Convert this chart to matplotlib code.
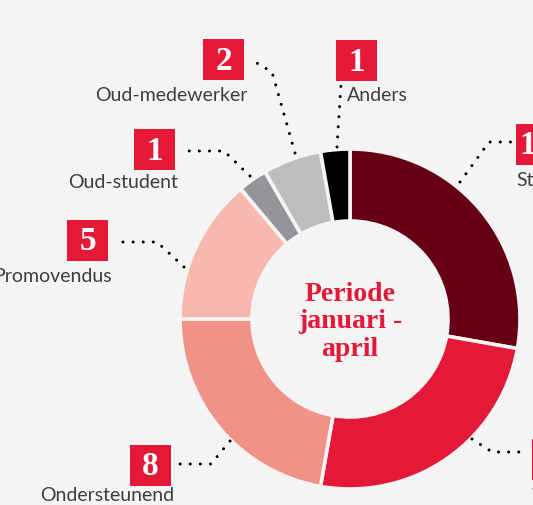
import matplotlib.pyplot as plt

# data
categories = ["Student", "Wetenschappelijk personeel", "Ondersteunend", "Promovendus",
              "Oud-student", "Oud-medewerker", "Anders"]
values = [10, 9, 8, 5, 1, 2, 1]
colors = ["#650015", "#e31937", "#f09386", "#f7b9ad", "#949598", "#bcbdbf", "#000000"]
center_title = "Periode\njanuari -\napril"

W, H = 533, 506
BG = "#f3f4f3"
RED = "#e31937"

def fy(y):
    # pixel y (top down) -> axes y
    return H - y

fig = plt.figure(figsize=(W / 100, H / 100), dpi=100, facecolor=BG)
ax = fig.add_axes([0, 0, 1, 1])
ax.set_facecolor(BG)

cx, cy, r = 350, 320, 170
ax.pie(values, colors=colors, startangle=90, counterclock=False,
       center=(cx, fy(cy)), radius=r, frame=True,
       wedgeprops=dict(width=72, edgecolor=BG, linewidth=2.6))
ax.set_xlim(0, W)
ax.set_ylim(0, H)
ax.set_aspect("equal")
ax.axis("off")

ax.text(cx, fy(cy + 2), center_title, ha="center", va="center",
        fontsize=20, fontweight="bold", family="Liberation Serif",
        color=RED, linespacing=1.12)

# annotation layout: box centre, label anchor, leader path (pixel coords)
layout = {
    "Student": dict(box=(536.5, 145), lab=(516, 181, "left"),
                    path=[(460, 183), (489, 143), (514, 143)]),
    "Wetenschappelijk personeel": dict(box=(552.5, 460), lab=(532, 497, "left"),
                    path=[(472, 440), (492, 453), (526, 453)]),
    "Ondersteunend": dict(box=(150.5, 466), lab=(174, 496, "right"),
                    path=[(230, 442), (211, 465), (177, 465)]),
    "Promovendus": dict(box=(87.5, 241), lab=(112, 276, "right"),
                    path=[(184, 268), (157, 243), (113, 243)]),
    "Oud-student": dict(box=(154.5, 150), lab=(178, 182, "right"),
                    path=[(250, 177), (224, 152), (180, 152)]),
    "Oud-medewerker": dict(box=(223.5, 60.5), lab=(247, 95, "right"),
                    path=[(295, 154), (272, 73), (250, 60)]),
    "Anders": dict(box=(356.5, 61.5), lab=(347, 95, "left"),
                    path=[(337, 148), (341, 85)]),
}

bs = 41
for cat, val in zip(categories, values):
    lay = layout[cat]
    bx, by = lay["box"]
    ax.add_patch(plt.Rectangle((bx - bs / 2, fy(by + bs / 2)), bs, bs,
                               facecolor=RED, edgecolor="none", zorder=3))
    ax.text(bx, fy(by + 1), str(val), ha="center", va="center", color="white",
            fontsize=24, fontweight="bold", family="Liberation Serif", zorder=4)
    lx, ly, ha = lay["lab"]
    ax.text(lx, fy(ly), cat, ha=ha, va="center", fontsize=14,
            family="Lato", color="#3d3d3d")
    xs = [p[0] for p in lay["path"]]
    ys = [fy(p[1]) for p in lay["path"]]
    ax.plot(xs, ys, color="black", linewidth=2.2,
            linestyle=(0, (0.01, 3.3)), dash_capstyle="round", zorder=2)

fig.savefig("out.png", dpi=100, facecolor=BG)
